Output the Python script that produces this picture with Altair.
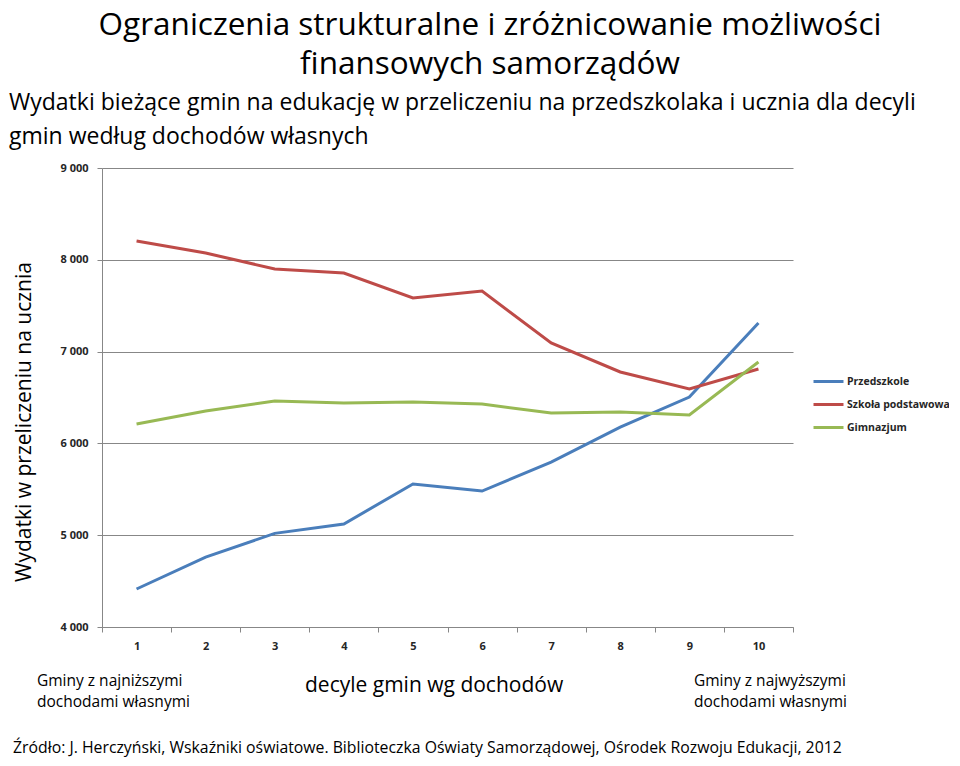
import altair as alt
import pandas as pd

decyle = [str(i) for i in range(1, 11)]
przedszkole = [4414, 4762, 5020, 5122, 5558, 5481, 5797, 6178, 6505, 7312]
szkola = [8205, 8074, 7900, 7856, 7584, 7660, 7094, 6778, 6593, 6810]
gimnazjum = [6211, 6353, 6462, 6440, 6451, 6429, 6331, 6342, 6309, 6887]
series_names = ["Przedszkole", "Szkoła podstawowa", "Gimnazjum"]
series_colors = ["#4A7EBB", "#BE4B48", "#98B954"]
y_ticks = [4000, 5000, 6000, 7000, 8000, 9000]

rows = []
for name, vals in zip(series_names, [przedszkole, szkola, gimnazjum]):
    for d, v in zip(decyle, vals):
        rows.append({"decyl": d, "wartosc": v, "seria": name})
df = pd.DataFrame(rows)

FONT = "Open Sans"
OX, OY = 102, 168  # plot origin in page coords


def txt(s, px, py, size, align="left", angle=0, weight="normal"):
    kw = dict(align=align, baseline="alphabetic", fontSize=size, font=FONT,
              color="#000000", fontWeight=weight)
    if angle:
        kw["angle"] = angle
    return alt.Chart(pd.DataFrame({"t": [s]})).mark_text(**kw).encode(
        text="t:N", x=alt.value(px - OX), y=alt.value(py - OY)
    )


lines = alt.Chart(df).mark_line(strokeWidth=3).encode(
    x=alt.X("decyl:N", sort=decyle, bandPosition=0.5,
            scale=alt.Scale(type="band", paddingInner=0, paddingOuter=0),
            axis=alt.Axis(title=None, labelAngle=0, tickBand="extent",
                          labelFontSize=11, labelFontWeight="bold", labelFont=FONT,
                          labelColor="#262626", domainColor="#878787",
                          tickColor="#878787", tickSize=5, labelPadding=8,
                          grid=False)),
    y=alt.Y("wartosc:Q", scale=alt.Scale(domain=[4000, 9000], nice=False, zero=False),
            axis=alt.Axis(title=None, values=y_ticks,
                          labelExpr="replace(format(datum.value, ','), ',', ' ')",
                          labelFontSize=11, labelFontWeight="bold", labelFont=FONT,
                          labelColor="#262626", domainColor="#878787",
                          tickColor="#878787", tickSize=5, labelPadding=9,
                          gridColor="#878787", gridWidth=1)),
    color=alt.Color("seria:N", sort=series_names,
                    scale=alt.Scale(domain=series_names, range=series_colors),
                    legend=alt.Legend(title=None, orient="none", legendX=710, legendY=197,
                                      symbolType="stroke", symbolSize=900,
                                      symbolStrokeWidth=3, labelFontSize=10.5,
                                      labelFontWeight="bold", labelFont=FONT,
                                      labelColor="#262626", rowPadding=-4.5,
                                      labelOffset=2)),
)

texts = [
    txt("Ograniczenia strukturalne i zróżnicowanie możliwości", 490, 35, 31.5, align="center"),
    txt("finansowych samorządów", 490, 74, 31.5, align="center"),
    txt("Wydatki bieżące gmin na edukację w przeliczeniu na przedszkolaka i ucznia dla decyli", 9, 110, 23),
    txt("gmin według dochodów własnych", 9, 144, 23),
    txt("Wydatki w przeliczeniu na ucznia", 31, 422, 21, align="center", angle=270),
    txt("Gminy z najniższymi", 37, 686, 15.5),
    txt("dochodami własnymi", 37, 707, 15.5),
    txt("decyle gmin wg dochodów", 305, 692, 21),
    txt("Gminy z najwyższymi", 694, 686, 15.5),
    txt("dochodami własnymi", 694, 707, 15.5),
    txt("Źródło: J. Herczyński, Wskaźniki oświatowe. Biblioteczka Oświaty Samorządowej, Ośrodek Rozwoju Edukacji, 2012",
        13, 753, 15.8),
]

chart = alt.layer(lines, *texts).properties(
    width=691, height=459,
    autosize=alt.AutoSizeParams(type="none"),
    padding={"left": 94, "top": 160, "right": 156, "bottom": 130},
).configure_view(stroke=None)

chart.save("out.html", embed_options={"renderer": "svg", "actions": False})
